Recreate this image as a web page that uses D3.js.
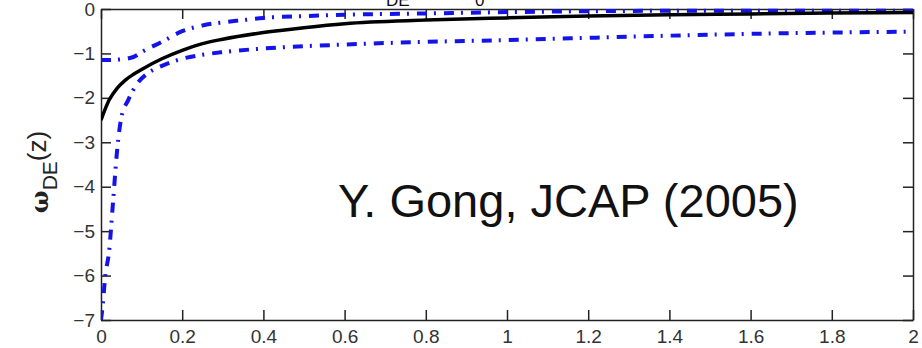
<!DOCTYPE html>
<html>
<head>
<meta charset="utf-8">
<script src="https://cdn.jsdelivr.net/npm/d3@7"></script>
<style>
  body { margin: 0; background: #fff; }
  svg { display: block; }
  .axis path, .axis line { stroke: #222; stroke-width: 1.5; }
  .axis text { font-family: "Liberation Sans", Arial, sans-serif; font-size: 19px; fill: #333; }
</style>
</head>
<body>
<div id="chart"></div>
<script>
// redshift samples and w_DE(z) values
var zBest = [0, 0.02, 0.04, 0.06, 0.08, 0.1, 0.15, 0.2, 0.25, 0.3, 0.4, 0.5, 0.6, 0.8, 1.0, 1.2, 1.4, 1.6, 1.8, 2.0];
var wBest = [-2.5, -2.05, -1.78, -1.6, -1.47, -1.36, -1.12, -0.93, -0.78, -0.68, -0.53, -0.42, -0.33, -0.25, -0.2, -0.16, -0.13, -0.11, -0.09, -0.08];

var zUpper = [0, 0.04, 0.08, 0.1, 0.15, 0.2, 0.25, 0.3, 0.35, 0.4, 0.5, 0.6, 0.8, 1.0, 1.2, 1.4, 1.6, 1.8, 2.0];
var wUpper = [-1.15, -1.14, -1.08, -0.97, -0.74, -0.5, -0.37, -0.3, -0.25, -0.2, -0.16, -0.13, -0.1, -0.07, -0.05, -0.04, -0.04, -0.04, -0.04];

var zLower = [0, 0.005, 0.01, 0.02, 0.03, 0.04, 0.05, 0.067, 0.09, 0.115, 0.15, 0.2, 0.25, 0.3, 0.4, 0.6, 0.8, 1.0, 1.2, 1.4, 1.6, 1.8, 2.0];
var wLower = [-7, -6.6, -6.05, -5.45, -4.3, -3.15, -2.45, -2.05, -1.67, -1.45, -1.28, -1.12, -1.03, -0.97, -0.89, -0.8, -0.74, -0.7, -0.65, -0.6, -0.56, -0.53, -0.51];

var xTicks = [0, 0.2, 0.4, 0.6, 0.8, 1, 1.2, 1.4, 1.6, 1.8, 2];
var yTicks = [0, -1, -2, -3, -4, -5, -6, -7];

var annotation = "Y. Gong, JCAP (2005)";

var width = 922, height = 348;
var margin = {top: 9, right: 9, bottom: 28, left: 101};

var svg = d3.select("#chart").append("svg")
    .attr("width", width)
    .attr("height", height);

var x = d3.scaleLinear().domain([0, 2]).range([margin.left, width - margin.right]);
var y = d3.scaleLinear().domain([-7, 0]).range([height - margin.bottom, margin.top]);

var fmt = d3.format("");

// axes, ticks pointing inward on all four sides
svg.append("g")
    .attr("class", "axis")
    .attr("transform", "translate(0," + y(-7) + ")")
    .call(d3.axisBottom(x).tickValues(xTicks).tickFormat(fmt).tickSizeInner(-10).tickSizeOuter(0).tickPadding(10))
    .selectAll("text").attr("font-size", 20);

svg.append("g")
    .attr("class", "axis")
    .attr("transform", "translate(0," + y(0) + ")")
    .call(d3.axisTop(x).tickValues(xTicks).tickFormat("").tickSizeInner(-10).tickSizeOuter(0));

svg.append("g")
    .attr("class", "axis")
    .attr("transform", "translate(" + x(0) + ",0)")
    .call(d3.axisLeft(y).tickValues(yTicks).tickFormat(fmt).tickSizeInner(-10).tickSizeOuter(0).tickPadding(6));

svg.append("g")
    .attr("class", "axis")
    .attr("transform", "translate(" + x(2) + ",0)")
    .call(d3.axisRight(y).tickValues(yTicks).tickFormat("").tickSizeInner(-10).tickSizeOuter(0));

// title, cut by the top edge as in the source figure
var title = svg.append("text")
    .attr("font-family", "Liberation Sans, Arial, sans-serif")
    .attr("font-size", 22)
    .attr("fill", "#111");
title.append("tspan").attr("x", 370).attr("y", -2).text("ω");
title.append("tspan").attr("x", 386).attr("y", 6).attr("font-size", 17).text("DE");
title.append("tspan").attr("x", 430).attr("y", -2).text("= ω");
title.append("tspan").attr("x", 475).attr("y", 6).attr("font-size", 17).text("0");
title.append("tspan").attr("x", 495).attr("y", -2).text("+ ω");

var line = d3.line()
    .x(function(d) { return x(d[0]); })
    .y(function(d) { return y(d[1]); })
    .curve(d3.curveMonotoneX);

svg.append("clipPath").attr("id", "plotclip")
    .append("rect")
    .attr("x", x(0)).attr("y", y(0) - 3)
    .attr("width", x(2) - x(0)).attr("height", y(-7) - y(0) + 3);

var plot = svg.append("g").attr("clip-path", "url(#plotclip)");

plot.append("path")
    .attr("d", line(d3.zip(zUpper, wUpper)))
    .attr("fill", "none")
    .attr("stroke", "#1414e6")
    .attr("stroke-width", 4)
    .attr("stroke-dasharray", "10,7,2,8");

plot.append("path")
    .attr("d", line(d3.zip(zLower, wLower)))
    .attr("fill", "none")
    .attr("stroke", "#1414e6")
    .attr("stroke-width", 4)
    .attr("stroke-dasharray", "10,7,2,8");

plot.append("path")
    .attr("d", line(d3.zip(zBest, wBest)))
    .attr("fill", "none")
    .attr("stroke", "#000")
    .attr("stroke-width", 3.5);

// y axis label
var ylab = svg.append("text")
    .attr("transform", "translate(48,172) rotate(-90)")
    .attr("text-anchor", "middle")
    .attr("fill", "#222");
ylab.append("tspan")
    .attr("font-family", "DejaVu Serif, serif")
    .attr("font-weight", "bold")
    .attr("font-size", 24)
    .text("ω");
ylab.append("tspan")
    .attr("font-family", "Liberation Sans, Arial, sans-serif")
    .attr("font-size", 21)
    .attr("dy", 9)
    .text("DE");
ylab.append("tspan")
    .attr("font-family", "Liberation Sans, Arial, sans-serif")
    .attr("font-size", 26)
    .attr("dy", -11)
    .text("(z)");

// citation annotation
svg.append("text")
    .attr("x", 338)
    .attr("y", 217)
    .attr("font-family", "Liberation Sans, Arial, sans-serif")
    .attr("font-size", 47)
    .attr("fill", "#111")
    .text(annotation);
</script>
</body>
</html>
